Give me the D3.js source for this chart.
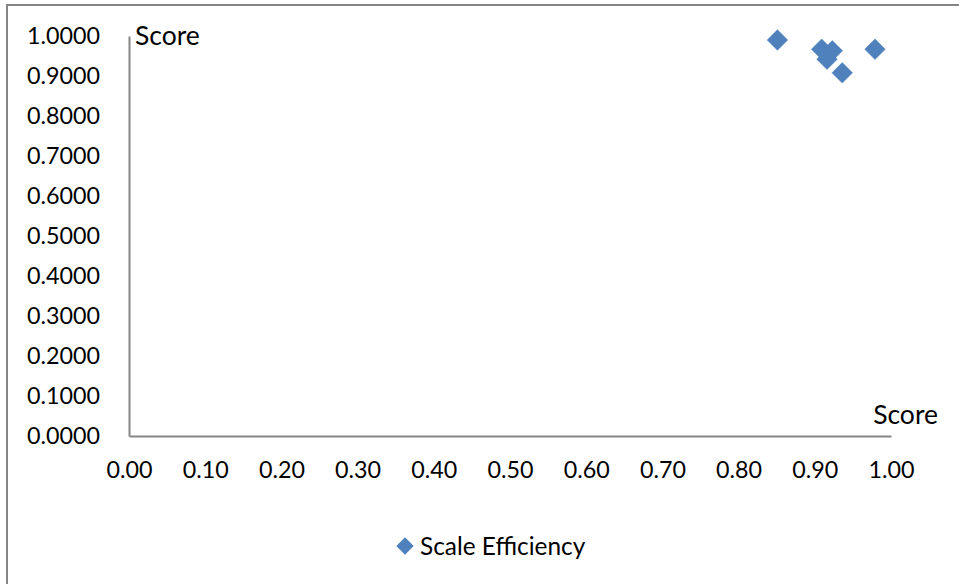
<!DOCTYPE html>
<html><head><meta charset="utf-8">
<script src="https://cdn.jsdelivr.net/npm/d3@7"></script>
<style>body{margin:0;background:#fff}svg{display:block}text{font-family:Lato,"Open Sans",sans-serif;fill:#000}</style>
</head><body><svg id="c" width="959" height="584"></svg>
<script>
const seriesName = "Scale Efficiency";
const xValues = [0.851, 0.909, 0.923, 0.916, 0.936, 0.979];
const yValues = [0.990, 0.967, 0.963, 0.942, 0.908, 0.967];
const xTicks = [0,0.1,0.2,0.3,0.4,0.5,0.6,0.7,0.8,0.9,1.0];
const yTicks = [0,0.1,0.2,0.3,0.4,0.5,0.6,0.7,0.8,0.9,1.0];
const axisTitleX = "Score", axisTitleY = "Score";

const svg = d3.select("#c");
const fs = 23.3;
svg.append("path").attr("d","M7,584V5H959").attr("fill","none").attr("stroke","#868686").attr("stroke-width",2);

const x = d3.scaleLinear().domain([0,1]).range([129,891]);
const y = d3.scaleLinear().domain([0,1]).range([436,36]);

const xa = svg.append("g").attr("transform","translate(0,436)")
  .call(d3.axisBottom(x).tickValues(xTicks).tickFormat(d3.format(".2f")).tickSize(0).tickPadding(25));
const ya = svg.append("g").attr("transform","translate(129,0)")
  .call(d3.axisLeft(y).tickValues(yTicks).tickFormat(d3.format(".4f")).tickSize(0).tickPadding(29));
[xa,ya].forEach(a=>{
  a.select(".domain").attr("stroke","#868686").attr("stroke-width",2);
  a.selectAll("text").style("font-size",fs+"px").style("font-family","Lato,'Open Sans',sans-serif").attr("fill","#000");
});

svg.append("text").attr("x",135).attr("y",45).style("font-size","26.5px").text(axisTitleY);
svg.append("text").attr("x",938).attr("y",424).attr("text-anchor","end").style("font-size","26.5px").text(axisTitleX);

const diamond = d3.symbol().type(d3.symbolSquare).size(210);
svg.append("g").selectAll("path").data(xValues.map((v,i)=>[v,yValues[i]])).join("path")
  .attr("d",diamond)
  .attr("transform",d=>`translate(${x(d[0])},${y(d[1])}) rotate(45)`)
  .attr("fill","#4F81BD").attr("stroke","#4A7EBB").attr("stroke-width",0.5);

const lg = svg.append("g");
lg.append("path").attr("d",d3.symbol().type(d3.symbolSquare).size(150)).attr("transform","translate(405,546) rotate(45)").attr("fill","#4F81BD");
lg.append("text").attr("x",420).attr("y",546).attr("dy","0.35em").style("font-size","24.4px").text(seriesName);
</script></body></html>
